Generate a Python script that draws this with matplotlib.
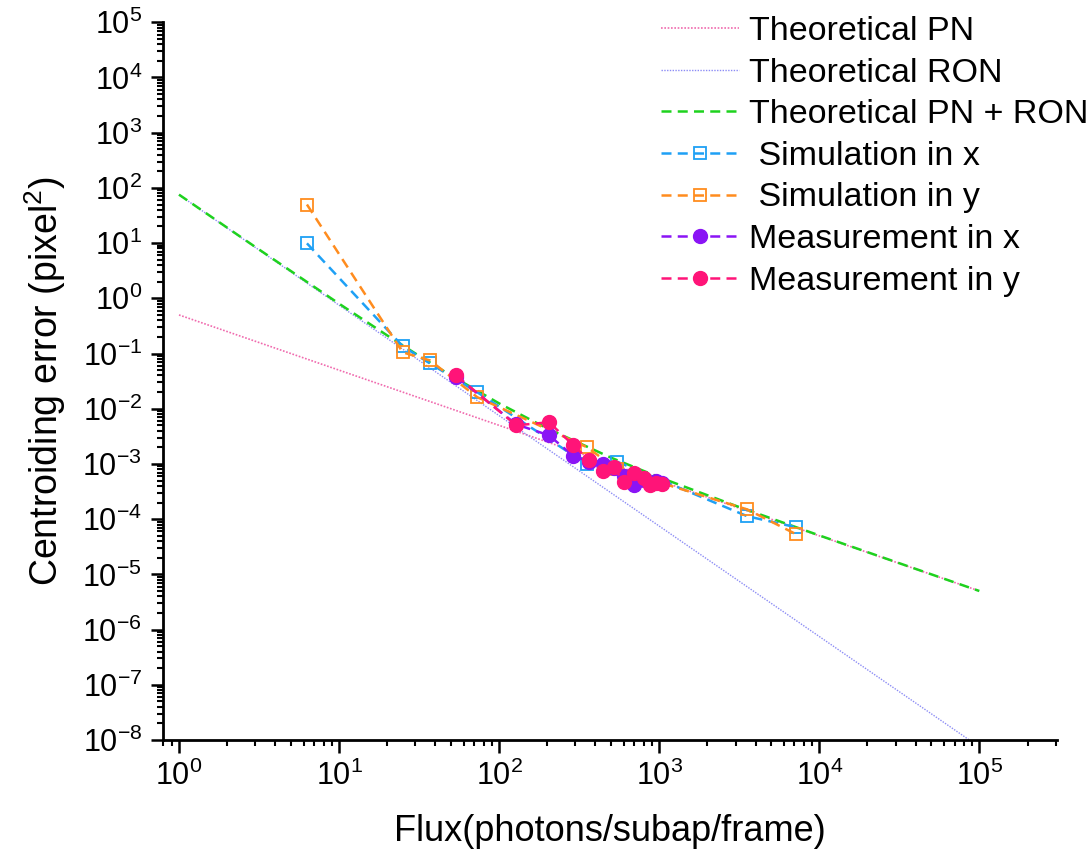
import matplotlib
matplotlib.use("Agg")
import matplotlib.pyplot as plt
import numpy as np
from matplotlib.ticker import LogLocator, NullFormatter

plt.rcParams["font.family"] = ["Liberation Sans", "DejaVu Sans"]
plt.rcParams["mathtext.fontset"] = "custom"
plt.rcParams["mathtext.rm"] = "Liberation Sans"
plt.rcParams["mathtext.it"] = "Liberation Sans:italic"

# theoretical curves
pn_F = [1, 1e5]
pn_err = [0.5, 5e-6]
ron_F = [1, 1e5]
ron_err = [75, 7.5e-9]
tot_F = [1, 3, 10, 20, 30, 50, 100, 200, 500, 1000, 3000, 1e4, 1e5]
tot_err = [75.5, 8.5, 0.80, 0.2125, 0.100, 0.040, 0.0125, 0.0044, 0.0013,
           5.75e-4, 1.75e-4, 5.08e-5, 5.0e-6]

# simulation
sim_F = [6.3, 25, 37, 73, 355, 545, 3550, 7200]
sim_x = [9.9, 0.135, 0.066, 0.0199, 0.00098, 0.0011, 1.13e-4, 7.1e-5]
sim_y = [50, 0.105, 0.075, 0.0162, 0.0020, 8.0e-4, 1.5e-4, 5.3e-5]

# measurement
meas_F = [54, 128, 205, 290, 365, 447, 520, 600, 695, 800, 875, 950, 1040]
meas_x = [0.038, 0.0052, 0.0033, 0.0014, 0.0011, 1.0e-3, 8.5e-4, 6.0e-4,
          4.1e-4, 5.2e-4, 4.6e-4, 4.9e-4, 4.5e-4]
meas_y = [0.040, 0.0050, 0.0057, 0.0022, 0.00116, 7.4e-4, 8.7e-4, 4.8e-4,
          6.8e-4, 5.5e-4, 4.1e-4, 4.6e-4, 4.3e-4]

fig = plt.figure(figsize=(10.9, 8.56), dpi=100)
ax = fig.add_axes([0.1495, 0.1355, 0.8205, 0.8385])

ax.plot(pn_F, pn_err, color="#F06AAE", ls=(0, (1, 1)), lw=1.2, label="Theoretical PN")
ax.plot(ron_F, ron_err, color="#8C8CF5", ls=(0, (1, 1)), lw=1.0, label="Theoretical RON")
ax.plot(tot_F, tot_err, color="#1ED21E", ls=(0, (4, 2.5)), lw=1.8,
        label="Theoretical PN + RON")
ax.plot(sim_F, sim_x, color="#1EA0F5", ls=(0, (4, 2.5)), lw=1.8, marker="s",
        ms=9, mfc="none", mew=1.3, label=" Simulation in x")
ax.plot(sim_F, sim_y, color="#FF8C1E", ls=(0, (4, 2.5)), lw=1.8, marker="s",
        ms=9, mfc="none", mew=1.3, label=" Simulation in y")
ax.plot(meas_F, meas_x, color="#8A14F5", ls=(0, (4, 2.5)), lw=1.8, marker="o",
        ms=10, label="Measurement in x")
ax.plot(meas_F, meas_y, color="#FF1478", ls=(0, (4, 2.5)), lw=1.8, marker="o",
        ms=10, label="Measurement in y")

ax.set_xscale("log")
ax.set_yscale("log")
ax.set_xlim(0.794, 3.07e5)
ax.set_ylim(1e-8, 1e5)

for axis in (ax.xaxis, ax.yaxis):
    axis.set_major_locator(LogLocator(base=10, numticks=30))
    axis.set_minor_locator(LogLocator(base=10, subs=np.arange(2, 10), numticks=100))
    axis.set_minor_formatter(NullFormatter())

ax.spines["top"].set_visible(False)
ax.spines["right"].set_visible(False)
ax.spines["left"].set_linewidth(2)
ax.spines["bottom"].set_linewidth(2)
ax.tick_params(which="major", direction="out", length=9, width=1.8,
               labelsize=22, pad=6)
ax.tick_params(which="minor", direction="out", length=4.5, width=1.5)

ax.set_xlabel("Flux(photons/subap/frame)", fontsize=26, labelpad=16)
ax.set_ylabel("Centroiding error (pixel$^{2}$)", fontsize=27, labelpad=10)

ax.legend(loc="upper left", bbox_to_anchor=(0.603, 0.985),
          bbox_transform=fig.transFigure, frameon=False, fontsize=24.5,
          handlelength=2.3, handletextpad=0.3, labelspacing=0.31,
          borderpad=0.1, borderaxespad=0, numpoints=1)

fig.savefig("out.png", dpi=100)
